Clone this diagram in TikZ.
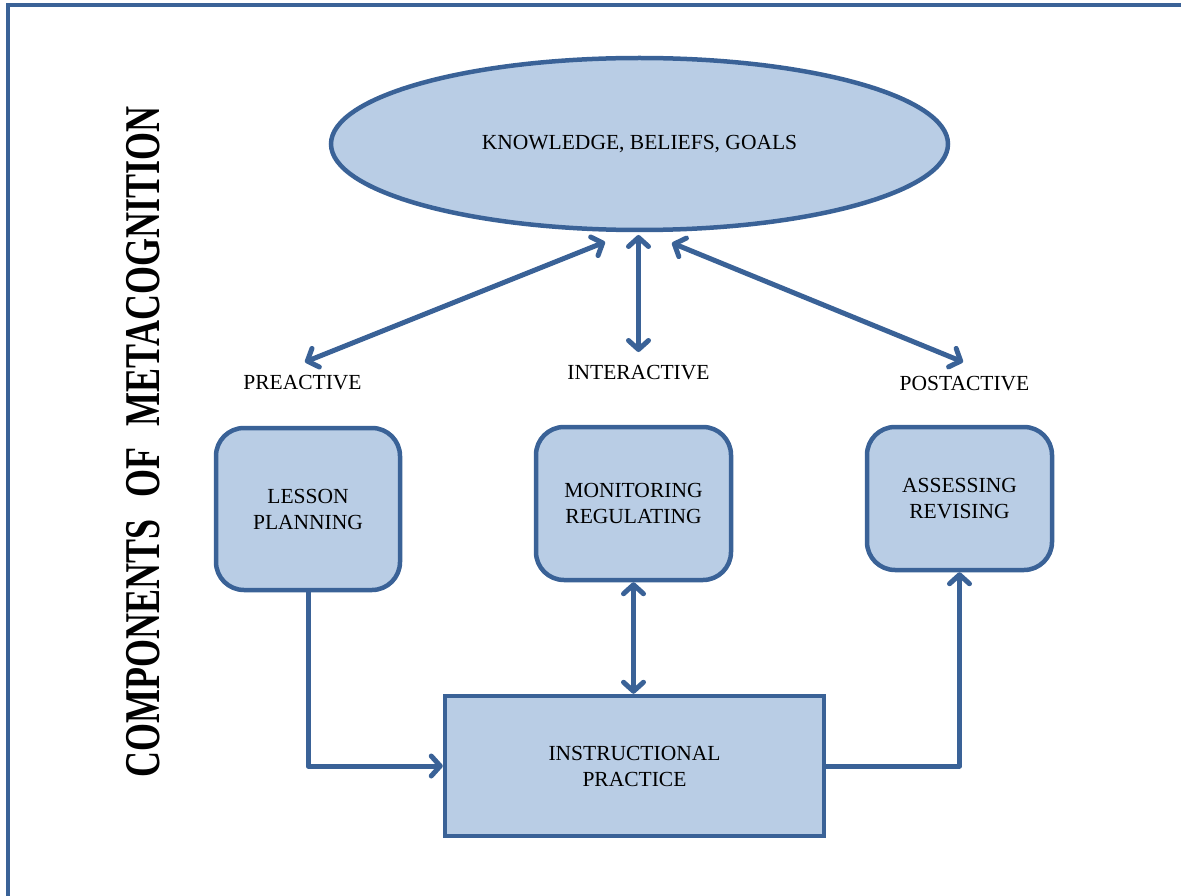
\documentclass[tikz,border=0pt]{standalone}
\usepackage{fontspec}
\setmainfont{Liberation Serif}
\usetikzlibrary{shapes.geometric,arrows.meta}
\definecolor{boxfill}{HTML}{B9CDE5}
\definecolor{boxline}{HTML}{3A6297}
\begin{document}
\begin{tikzpicture}[x=1pt,y=-1pt,
  lbl/.style={font=\fontsize{21.5}{26}\selectfont, align=center, inner sep=0pt},
  shapebox/.style={draw=boxline, fill=boxfill, line width=4.5pt, lbl},
  roundbox/.style={shapebox, rectangle, rounded corners=28pt},
  link/.style={draw=boxline, line width=5pt, line cap=round, line join=round},
  tipend/.style={-{Straight Barb[length=9pt,width=20pt,round]}},
  tipboth/.style={{Straight Barb[length=9pt,width=20pt,round]}-{Straight Barb[length=9pt,width=20pt,round]}}
]
\useasboundingbox (0,0) rectangle (1181,896);

% outer frame (left and top edges)
\draw[boxline, line width=4.5pt] (8,900) -- (8,5) -- (1185,5);

% vertical title
\node[rotate=90, inner sep=0pt] (title) at (143,442)
  {\fontsize{50}{50}\selectfont\bfseries\scalebox{0.72}[1]{COMPONENTS\hspace{0.6em}OF\hspace{0.6em}METACOGNITION}};

% central ellipse
\node[shapebox, ellipse, minimum width=617pt, minimum height=172pt] (kbg) at (639.5,144)
  {KNOWLEDGE, BELIEFS, GOALS};

% phase labels
\node[lbl] (pre)   at (302.5,383) {PREACTIVE};
\node[lbl] (inter) at (638.5,373) {INTERACTIVE};
\node[lbl] (post)  at (964.5,384) {POSTACTIVE};

% phase boxes
\node[roundbox, minimum width=184pt, minimum height=162pt] (lesson) at (308,509)
  {LESSON\\PLANNING};
\node[roundbox, minimum width=195pt, minimum height=153pt] (mon) at (633.5,503.5)
  {MONITORING\\REGULATING};
\node[roundbox, minimum width=185pt, minimum height=143pt] (assess) at (959.5,498.5)
  {ASSESSING\\REVISING};
\node[shapebox, rectangle, minimum width=379pt, minimum height=140pt] (instr) at (634.5,766)
  {INSTRUCTIONAL\\PRACTICE};

% arrow end points between the ellipse and the phase labels
\coordinate (kl) at (605,242);
\coordinate (pl) at (305,362);
\coordinate (kc) at (638.5,235);
\coordinate (ic) at (638.5,352);
\coordinate (kr) at (672,243);
\coordinate (pr) at (963,362);

\draw[link, tipboth] (kl) -- (pl);
\draw[link, tipboth] (kc) -- (ic);
\draw[link, tipboth] (kr) -- (pr);

% flows around the instructional practice
\draw[link, tipend] (lesson.south) |- (instr.west);
\draw[link, tipboth] (mon.south) -- (mon.south |- instr.north);
\draw[link, tipend] (instr.east) -| (assess.south);
\end{tikzpicture}
\end{document}
